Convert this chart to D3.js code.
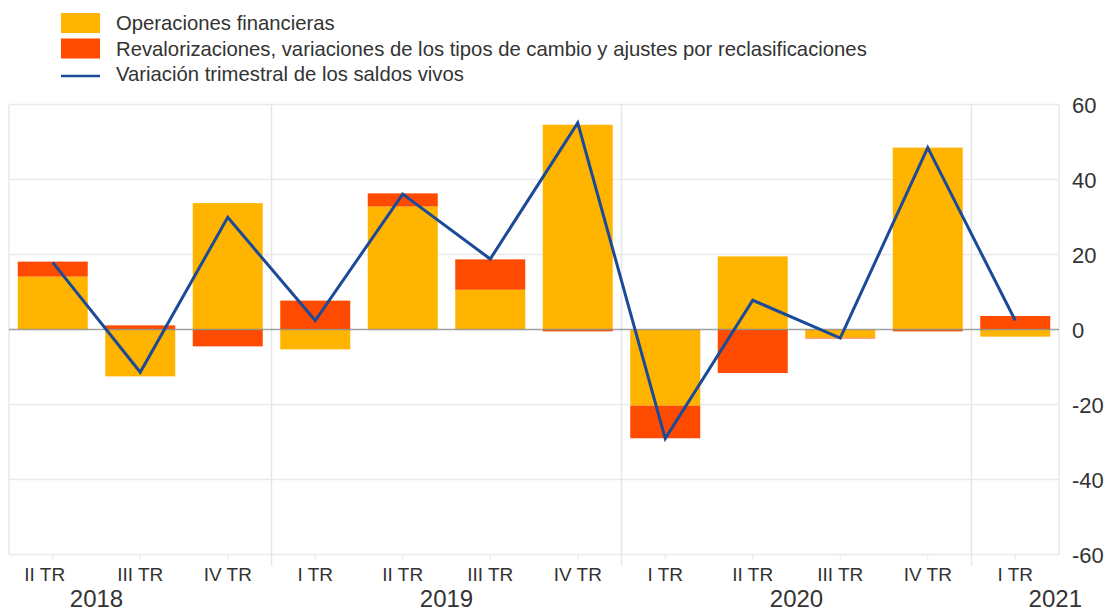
<!DOCTYPE html>
<html>
<head>
<meta charset="utf-8">
<script src="https://cdn.jsdelivr.net/npm/d3@7"></script>
<style>
  html, body { margin: 0; padding: 0; background: #fff; }
  svg { display: block; font-family: "Liberation Sans", Arial, sans-serif; }
</style>
</head>
<body>
<svg id="chart" width="1109" height="611"></svg>
<script>
// ---- data ----
const quarterLabels = ["II TR","III TR","IV TR","I TR","II TR","III TR","IV TR","I TR","II TR","III TR","IV TR","I TR"];
const quarterYears  = [2018, 2018, 2018, 2019, 2019, 2019, 2019, 2020, 2020, 2020, 2020, 2021];
const operaciones      = [14.1, -12.5, 33.7, -5.3, 32.8, 10.6, 54.6, -20.3, 19.5, -2.2, 48.5, -1.9];
const revalorizaciones = [4.0, 1.1, -4.5, 7.7, 3.5, 8.1, -0.5, -8.7, -11.6, -0.2, -0.5, 3.6];
const variacion        = [17.9, -11.4, 29.9, 2.4, 36.1, 18.8, 55.1, -29.1, 7.8, -2.3, 48.5, 2.4];
const yTicks = [-60, -40, -20, 0, 20, 40, 60];
const seriesNames = [
  "Operaciones financieras",
  "Revalorizaciones, variaciones de los tipos de cambio y ajustes por reclasificaciones",
  "Variación trimestral de los saldos vivos"
];
const colors = { op: "#FFB400", rev: "#FF4B00", line: "#1B4A98" };

// ---- setup ----
const svg = d3.select("#chart");
const W = 1109, H = 611;
const plot = { left: 9, right: 1059, top: 104.5, bottom: 554.5 };

const idx = d3.range(quarterLabels.length);
const x = d3.scaleBand().domain(idx).range([plot.left, plot.right]).paddingInner(0.2).paddingOuter(0.1);
const y = d3.scaleLinear().domain([-60, 60]).range([plot.bottom, plot.top]);
const step = x.step();
const cx = i => x(i) + x.bandwidth() / 2;
const textColor = "#333";

// gridlines
svg.append("g").selectAll("line").data(yTicks.filter(d => d !== 0)).join("line")
  .attr("x1", plot.left).attr("x2", plot.right)
  .attr("y1", d => y(d)).attr("y2", d => y(d))
  .attr("stroke", "#e9e9e9").attr("stroke-width", 1.5);
// frame sides
svg.append("g").selectAll("line").data([plot.left, plot.right]).join("line")
  .attr("x1", d => d).attr("x2", d => d)
  .attr("y1", plot.top).attr("y2", plot.bottom)
  .attr("stroke", "#e9e9e9").attr("stroke-width", 1.5);
// year separators
const sepIdx = idx.filter(i => quarterLabels[i] === "I TR");
svg.append("g").selectAll("line").data(sepIdx).join("line")
  .attr("x1", i => x(i) - (step - x.bandwidth()) / 2)
  .attr("x2", i => x(i) - (step - x.bandwidth()) / 2)
  .attr("y1", plot.top).attr("y2", plot.bottom + 11)
  .attr("stroke", "#e6e6e6").attr("stroke-width", 1.5);
// small category ticks
svg.append("g").selectAll("line").data(idx).join("line")
  .attr("x1", cx).attr("x2", cx)
  .attr("y1", plot.bottom).attr("y2", plot.bottom + 5)
  .attr("stroke", "#e6e6e6").attr("stroke-width", 1);

// stacked bars (diverging)
const rows = idx.map(i => ({ i, op: operaciones[i], rev: revalorizaciones[i] }));
const stack = d3.stack().keys(["op", "rev"]).offset(d3.stackOffsetDiverging);
const stacked = stack(rows);
svg.append("g").selectAll("g").data(stacked).join("g")
  .attr("fill", d => colors[d.key])
  .selectAll("rect").data(d => d).join("rect")
  .attr("x", d => x(d.data.i))
  .attr("width", x.bandwidth())
  .attr("y", d => y(Math.max(d[0], d[1])))
  .attr("height", d => Math.abs(y(d[0]) - y(d[1])));

// zero line
svg.append("line")
  .attr("x1", plot.left).attr("x2", plot.right)
  .attr("y1", y(0)).attr("y2", y(0))
  .attr("stroke", "#8a8a8a").attr("stroke-opacity", 0.8).attr("stroke-width", 1.5);

// line series
const line = d3.line().x(i => cx(i)).y(i => y(variacion[i]));
svg.append("path").datum(idx)
  .attr("d", line).attr("fill", "none")
  .attr("stroke", colors.line).attr("stroke-width", 3)
  .attr("stroke-linejoin", "miter");

// right y axis labels
svg.append("g").selectAll("text").data(yTicks).join("text")
  .attr("x", 1072).attr("y", d => y(d) + 8)
  .attr("font-size", 22).attr("fill", textColor)
  .text(d => d);

// category labels (first one sits slightly left, as in the reference)
svg.append("g").selectAll("text").data(idx).join("text")
  .attr("x", i => cx(i) - (i === 0 ? 8 : 0)).attr("y", 581)
  .attr("text-anchor", "middle").attr("font-size", 19).attr("fill", textColor)
  .text(i => quarterLabels[i]);

// year labels: centred on the full year (4 quarters), clipped to the canvas
const yearsU = Array.from(new Set(quarterYears));
const qNum = { "I TR": 1, "II TR": 2, "III TR": 3, "IV TR": 4 };
svg.append("g").selectAll("text").data(yearsU).join("text")
  .each(function (yr) {
    const first = quarterYears.indexOf(yr);
    let c = cx(first) + step * (2.5 - qNum[quarterLabels[first]]);
    const t = d3.select(this).attr("font-size", 24).attr("fill", textColor).text(yr);
    if (c + 27 > W - 26) {
      t.attr("x", W - 27).attr("text-anchor", "end");
    } else {
      t.attr("x", c).attr("text-anchor", "middle");
    }
    t.attr("y", 607);
  });

// legend
const lg = svg.append("g");
const legendItems = [
  { name: seriesNames[0], type: "rect", color: colors.op },
  { name: seriesNames[1], type: "rect", color: colors.rev },
  { name: seriesNames[2], type: "line", color: colors.line }
];
legendItems.forEach((d, k) => {
  const base = 30 + k * 25.5;
  if (d.type === "rect") {
    lg.append("rect").attr("x", 61).attr("y", base - 17).attr("width", 39).attr("height", 20).attr("fill", d.color);
  } else {
    lg.append("line").attr("x1", 61).attr("x2", 100).attr("y1", base - 5).attr("y2", base - 5)
      .attr("stroke", d.color).attr("stroke-width", 2.5);
  }
  lg.append("text").attr("x", 116).attr("y", base).attr("font-size", 20.3).attr("fill", textColor).text(d.name);
});
</script>
</body>
</html>
